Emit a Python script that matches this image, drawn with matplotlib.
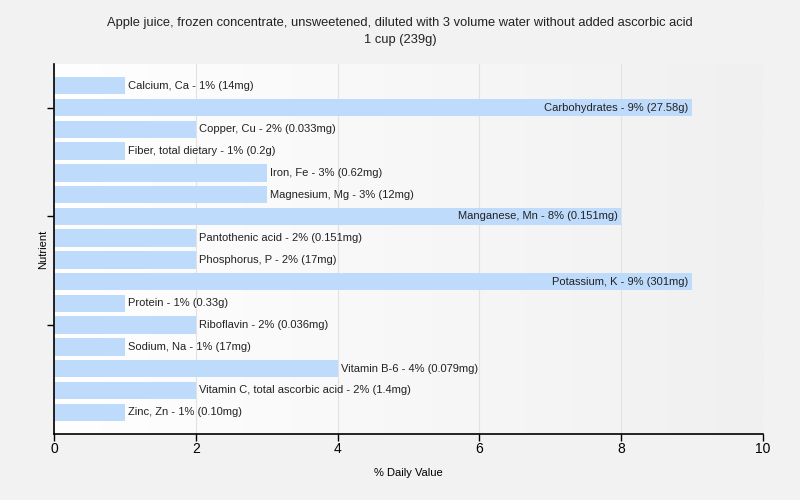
import matplotlib
matplotlib.use("Agg")
import matplotlib.pyplot as plt
import numpy as np
from matplotlib.colors import LinearSegmentedColormap

plt.rcParams['font.family'] = ['Liberation Sans', 'DejaVu Sans']

nutrients = ["Calcium, Ca", "Carbohydrates", "Copper, Cu", "Fiber, total dietary",
             "Iron, Fe", "Magnesium, Mg", "Manganese, Mn", "Pantothenic acid",
             "Phosphorus, P", "Potassium, K", "Protein", "Riboflavin", "Sodium, Na",
             "Vitamin B-6", "Vitamin C, total ascorbic acid", "Zinc, Zn"]
values = [1, 9, 2, 1, 3, 3, 8, 2, 2, 9, 1, 2, 1, 4, 2, 1]
amounts = ["14mg", "27.58g", "0.033mg", "0.2g", "0.62mg", "12mg", "0.151mg", "0.151mg",
           "17mg", "301mg", "0.33g", "0.036mg", "17mg", "0.079mg", "1.4mg", "0.10mg"]
title = "Apple juice, frozen concentrate, unsweetened, diluted with 3 volume water without added ascorbic acid\n1 cup (239g)"

bg = "#f2f2f2"
fig = plt.figure(figsize=(8, 5), dpi=100, facecolor=bg)
ax = fig.add_axes([54/800, 1-434/500, (763-54)/800, (434-64)/500])

n = len(nutrients)
y = np.arange(n)

# gradient background
grad = np.linspace(0, 1, 256).reshape(1, -1)
cmap = LinearSegmentedColormap.from_list("g", ["#ffffff", "#f0f0f0"])
ax.imshow(grad, aspect='auto', cmap=cmap, extent=[0, 10, n, -1], zorder=0)

ax.barh(y, values, height=0.8, color="#bfdbfc", zorder=2)
for yi, v, name, amt in zip(y, values, nutrients, amounts):
    label = f"{name} - {v}% ({amt})"
    if v >= 8:
        ax.text(v - 0.05, yi, label, ha='right', va='center', fontsize=8, color="#222222", zorder=3)
    else:
        ax.text(v + 0.05, yi, label, ha='left', va='center', fontsize=8, color="#222222", zorder=3)

ax.set_xlim(0, 10)
ax.set_ylim(n, -1)
ax.set_xticks([0, 2, 4, 6, 8, 10])
ax.tick_params(axis='x', labelsize=10, length=5, width=1, pad=1)
ax.set_yticks([1, 6, 11])
ax.set_yticklabels([])
ax.tick_params(axis='y', length=5, width=1)
ax.grid(axis='x', color="#e2e2e2", linewidth=0.8, zorder=1)
ax.set_axisbelow(True)
for s in ['top', 'right']:
    ax.spines[s].set_visible(False)
for s in ['left', 'bottom']:
    ax.spines[s].set_linewidth(1.2)

ax.set_xlabel("% Daily Value", fontsize=8, labelpad=8.5)
ax.set_ylabel("Nutrient", fontsize=8, labelpad=-4.5)
fig.text(0.5, 1-31.5/500, title, ha='center', va='center', fontsize=9.3, color="#222222", linespacing=1.6)

fig.savefig("out.png", dpi=100, facecolor=bg)
